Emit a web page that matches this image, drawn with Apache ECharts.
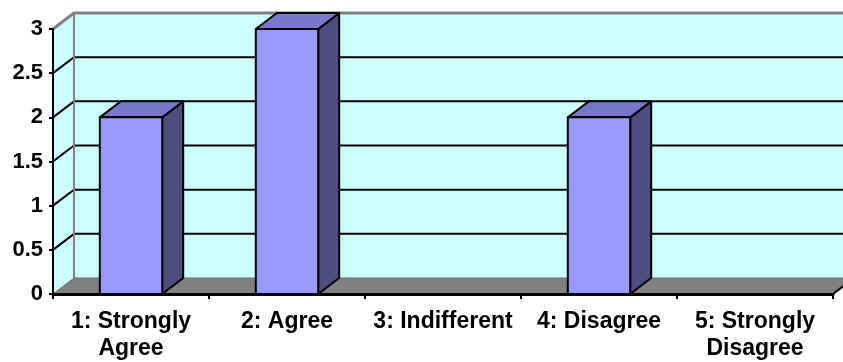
<!DOCTYPE html>
<html>
<head>
<meta charset="utf-8">
<script src="https://cdn.jsdelivr.net/npm/echarts@6/dist/echarts.min.js"></script>
<style>
  html, body { margin: 0; padding: 0; background: #fff; }
  #chart { width: 843px; height: 362px; }
</style>
</head>
<body>
<div id="chart"></div>
<script>
const categories = ['1: Strongly\nAgree', '2: Agree', '3: Indifferent', '4: Disagree', '5: Strongly\nDisagree']
const responses = [2, 3, 0, 2, 0]
const yTicks = [0, 0.5, 1, 1.5, 2, 2.5, 3]

// depth of the 3d box in pixels
const DX = 21
const DY = -16

const chart = echarts.init(document.getElementById('chart'))

function renderWalls(params, api) {
  const cs = params.coordSys
  const x0 = cs.x
  const x1 = cs.x + cs.width
  const yTop = api.coord([0, yTicks[yTicks.length - 1]])[1]
  const yBot = api.coord([0, yTicks[0]])[1]
  const children = []

  // back wall + left side wall
  children.push({
    type: 'rect',
    shape: { x: x0 + DX, y: yTop + DY, width: x1 - x0, height: yBot - yTop },
    style: { fill: '#ccffff' }
  })
  children.push({
    type: 'polygon',
    shape: { points: [[x0, yBot], [x0, yTop], [x0 + DX, yTop + DY], [x0 + DX, yBot + DY]] },
    style: { fill: '#ccffff' }
  })

  // gridlines on side and back wall
  yTicks.slice(1, -1).forEach(v => {
    const y = api.coord([0, v])[1]
    children.push({
      type: 'polyline',
      shape: { points: [[x0, y], [x0 + DX, y + DY], [x1 + DX, y + DY]] },
      style: { stroke: '#000', lineWidth: 2, fill: null }
    })
  })

  // grey edges of the walls
  children.push({
    type: 'polyline',
    shape: { points: [[x0, yTop], [x0 + DX, yTop + DY], [x1 + DX, yTop + DY]] },
    style: { stroke: '#808080', lineWidth: 3, fill: null }
  })
  children.push({
    type: 'line',
    shape: { x1: x0 + DX, y1: yTop + DY, x2: x0 + DX, y2: yBot + DY },
    style: { stroke: '#808080', lineWidth: 2 }
  })

  // floor
  children.push({
    type: 'polygon',
    shape: { points: [[x0, yBot], [x1, yBot], [x1 + DX, yBot + DY], [x0 + DX, yBot + DY]] },
    style: { fill: '#808080', stroke: '#6a6a6a', lineWidth: 1 }
  })
  children.push({
    type: 'line',
    shape: { x1: x1, y1: yBot, x2: x1 + DX, y2: yBot + DY },
    style: { stroke: '#000', lineWidth: 2 }
  })

  return { type: 'group', children: children }
}

function renderBar(params, api) {
  const val = api.value(1)
  if (!val) return { type: 'group', children: [] }
  const base = api.coord([api.value(0), 0])
  const top = api.coord([api.value(0), val])
  const w = api.size([1, 0])[0] * 0.4
  const l = base[0] - w / 2
  const r = base[0] + w / 2
  const yt = top[1]
  const yb = base[1]
  const edge = { stroke: '#000', lineWidth: 2, lineJoin: 'round' }
  return {
    type: 'group',
    children: [
      {
        type: 'polygon',
        shape: { points: [[r, yb], [r, yt], [r + DX, yt + DY], [r + DX, yb + DY]] },
        style: Object.assign({ fill: '#4d4d80' }, edge)
      },
      {
        type: 'polygon',
        shape: { points: [[l, yt], [r, yt], [r + DX, yt + DY], [l + DX, yt + DY]] },
        style: Object.assign({ fill: '#7777cc' }, edge)
      },
      {
        type: 'rect',
        shape: { x: l, y: yt, width: w, height: yb - yt },
        style: Object.assign({ fill: '#9999ff' }, edge)
      }
    ]
  }
}

const labelFont = {
  color: '#000',
  fontFamily: 'Liberation Sans, Arial, sans-serif',
  fontWeight: 'bold'
}

const option = {
  animation: false,
  grid: {
    left: 53,
    right: 10,
    top: 29,
    bottom: 67
  },
  xAxis: {
    type: 'category',
    data: categories,
    z: 5,
    axisLine: { lineStyle: { color: '#000', width: 3 } },
    axisTick: { show: true, length: 5, lineStyle: { color: '#000', width: 2 } },
    axisLabel: Object.assign({ interval: 0, margin: 14, lineHeight: 27, fontSize: 23 }, labelFont)
  },
  yAxis: {
    type: 'value',
    min: 0,
    max: 3,
    interval: 0.5,
    z: 5,
    axisLine: { show: true, lineStyle: { color: '#000', width: 2 } },
    axisTick: { show: true, length: 4, lineStyle: { color: '#000', width: 2 } },
    splitLine: { show: false },
    axisLabel: Object.assign({ margin: 10, fontSize: 22 }, labelFont)
  },
  series: [
    {
      type: 'custom',
      z: 1,
      silent: true,
      clip: false,
      renderItem: renderWalls,
      data: [[0, 0]]
    },
    {
      type: 'custom',
      z: 3,
      clip: false,
      renderItem: renderBar,
      data: responses.map((v, i) => [i, v])
    }
  ]
}

chart.setOption(option)
</script>
</body>
</html>
